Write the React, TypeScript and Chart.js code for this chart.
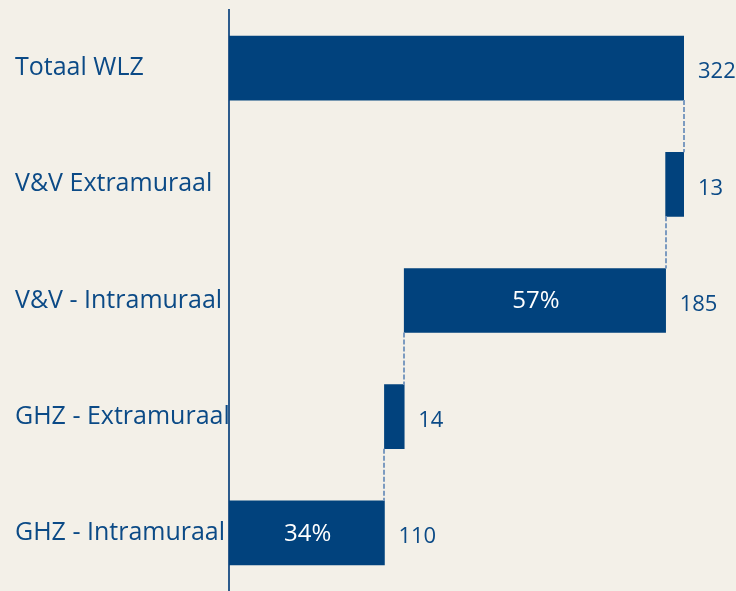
import React, { useEffect, useRef } from "react";
import { Chart, registerables } from "chart.js";

Chart.register(...registerables);

const categories = ["Totaal WLZ", "V&V Extramuraal", "V&V - Intramuraal", "GHZ - Extramuraal", "GHZ - Intramuraal"];
const barStarts = [0, 309, 124, 110, 0];
const barEnds = [322, 322, 309, 124, 110];
const valueLabels = ["322", "13", "185", "14", "110"];
const percentLabels = ["", "", "57%", "", "34%"];

const BG = "#f3f0e8";
const BAR = "#01427d";
const TEXT = "#0b4a86";
const FONT = "'Open Sans', sans-serif";

export default function App() {
  const ref = useRef<HTMLCanvasElement | null>(null);

  useEffect(() => {
    const canvas = ref.current;
    if (!canvas) return;
    document.body.style.margin = "0";
    document.body.style.background = BG;

    const annotate = {
      id: "annotate",
      afterDatasetsDraw(chart: any) {
        const ctx = chart.ctx;
        const meta = chart.getDatasetMeta(0);
        const xs = chart.scales.x;
        ctx.save();
        // connectors
        ctx.strokeStyle = "#7c9bc0";
        ctx.lineWidth = 2;
        ctx.setLineDash([5, 2]);
        for (let i = 0; i < meta.data.length - 1; i++) {
          const a: any = meta.data[i];
          const b: any = meta.data[i + 1];
          const level = i === 0 ? barEnds[0] : barStarts[i];
          const x = Math.round(xs.getPixelForValue(level));
          const y1 = a.y + a.height / 2;
          const y2 = b.y - b.height / 2;
          ctx.beginPath();
          ctx.moveTo(x, y1);
          ctx.lineTo(x, y2);
          ctx.stroke();
        }
        ctx.setLineDash([]);
        // labels
        ctx.textBaseline = "middle";
        meta.data.forEach((el: any, i: number) => {
          const right = Math.max(el.x, el.base);
          const left = Math.min(el.x, el.base);
          ctx.fillStyle = TEXT;
          ctx.textAlign = "left";
          ctx.font = `22px ${FONT}`;
          ctx.fillText(valueLabels[i], right + 14, el.y + 4);
          if (percentLabels[i]) {
            ctx.font = `24px ${FONT}`;
            ctx.fillStyle = "#ffffff";
            ctx.textAlign = "center";
            ctx.fillText(percentLabels[i], (left + right) / 2 + 1, el.y + 1);
          }
        });
        ctx.restore();
      },
    };

    const chart = new Chart(canvas, {
      type: "bar",
      data: {
        labels: categories,
        datasets: [
          {
            data: barStarts.map((s, i) => [s, barEnds[i]]),
            backgroundColor: BAR,
            borderWidth: 0,
            barThickness: 64,
          },
        ],
      },
      options: {
        indexAxis: "y",
        responsive: false,
        animation: false,
        layout: { padding: { left: 15, right: 52, top: 10, bottom: -2 } },
        plugins: { legend: { display: false }, tooltip: { enabled: false } },
        scales: {
          x: { display: false, min: 0, max: 322 },
          y: {
            grid: { display: false },
            border: { display: true, color: "#2d5b8c", width: 2 },
            ticks: {
              crossAlign: "far",
              color: TEXT,
              font: { family: FONT, size: 25 },
              padding: 0,
            },
            afterFit(scale: any) {
              scale.width = 214;
              scale.paddingTop = 0;
              scale.paddingBottom = 0;
            },
          },
        },
      },
      plugins: [annotate],
    });
    return () => chart.destroy();
  }, []);

  return (
    <div style={{ position: "fixed", left: 0, top: 0, width: 736, height: 591, background: BG }}>
      <canvas ref={ref} width={736} height={591} style={{ display: "block" }} />
    </div>
  );
}
